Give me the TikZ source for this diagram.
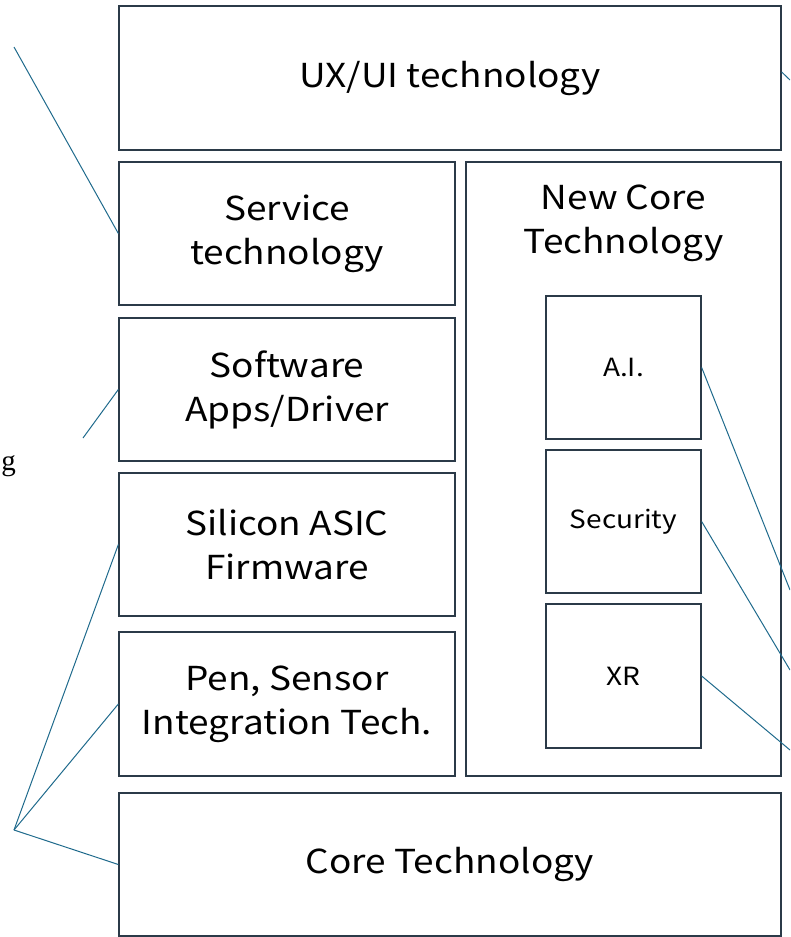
\documentclass[tikz,border=0pt]{standalone}
\usepackage{fontspec}
\setmainfont{Noto Sans CJK JP}[FakeStretch=1.12]
\newfontfamily\serifg{Liberation Serif}
\usepackage{xcolor}
\definecolor{boxline}{HTML}{2B3A48}
\definecolor{linkline}{HTML}{1F6A8C}

\begin{document}
\begin{tikzpicture}[x=1pt, y=-1pt]
                % Styles
                \tikzstyle{layer} = [rectangle, draw=boxline, line width=1.3pt, minimum width=336pt, minimum height=143pt, align=center, font=\fontsize{33}{44}\selectfont, inner sep=0pt]
                \tikzstyle{wide} = [layer, minimum width=662pt]
                \tikzstyle{sub} = [layer, minimum width=155pt, font=\fontsize{25}{30}\selectfont]
                \tikzstyle{link} = [draw=linkline, line width=1pt]

                \useasboundingbox (0,0) rectangle (790,937);

                % Nodes
                \node (ux) [wide, minimum height=144pt] at (450,78) {UX/UI technology};
                \node (service) [layer] at (287,233.5) {Service\\technology};
                \node (software) [layer] at (287,389.5) {Software\\Apps/Driver};
                \node (silicon) [layer] at (287,544.5) {Silicon ASIC\\Firmware};
                \node (pen) [layer, minimum height=144pt] at (287,704) {Pen, Sensor\\Integration Tech.};
                \node (core) [wide] at (450,864.5) {Core Technology};
                \node (newcore) [layer, minimum width=315pt, minimum height=614pt] at (623.5,469) {};
                \node (newtitle) at (623.5,223) [align=center, font=\fontsize{33}{44}\selectfont] {New Core\\Technology};
                \node (ai) [sub] at (623.5,367.5) {A.I.};
                \node (security) [sub] at (623.5,521.5) {Security};
                \node (xr) [sub, minimum height=144pt] at (623.5,676) {XR};
                \node (gtext) [anchor=east, inner sep=0pt, font=\serifg\fontsize{29}{34}\selectfont] at (16,466) {g};

                % Free ends
                \coordinate (topleft) at (14,47);
                \coordinate (midleft) at (83,438);
                \coordinate (hub) at (14,830);
                \coordinate (uxout) at (790,80);
                \coordinate (aiout) at (790,590);
                \coordinate (secout) at (790,670);
                \coordinate (xrout) at (790,750);

                % Paths
                \begin{scope}
                \clip (0,0) rectangle (790,937);
                \draw [link] (topleft) -- (service.west);
                \draw [link] (midleft) -- (software.west);
                \draw [link] (hub) -- (silicon.west);
                \draw [link] (hub) -- (pen.west);
                \draw [link] (hub) -- (core.west);
                \draw [link] ([yshift=6pt]ux.east) -- (uxout);
                \draw [link] (ai.east) -- (aiout);
                \draw [link] (security.east) -- (secout);
                \draw [link] (xr.east) -- (xrout);
                \end{scope}

            \end{tikzpicture}
\end{document}
